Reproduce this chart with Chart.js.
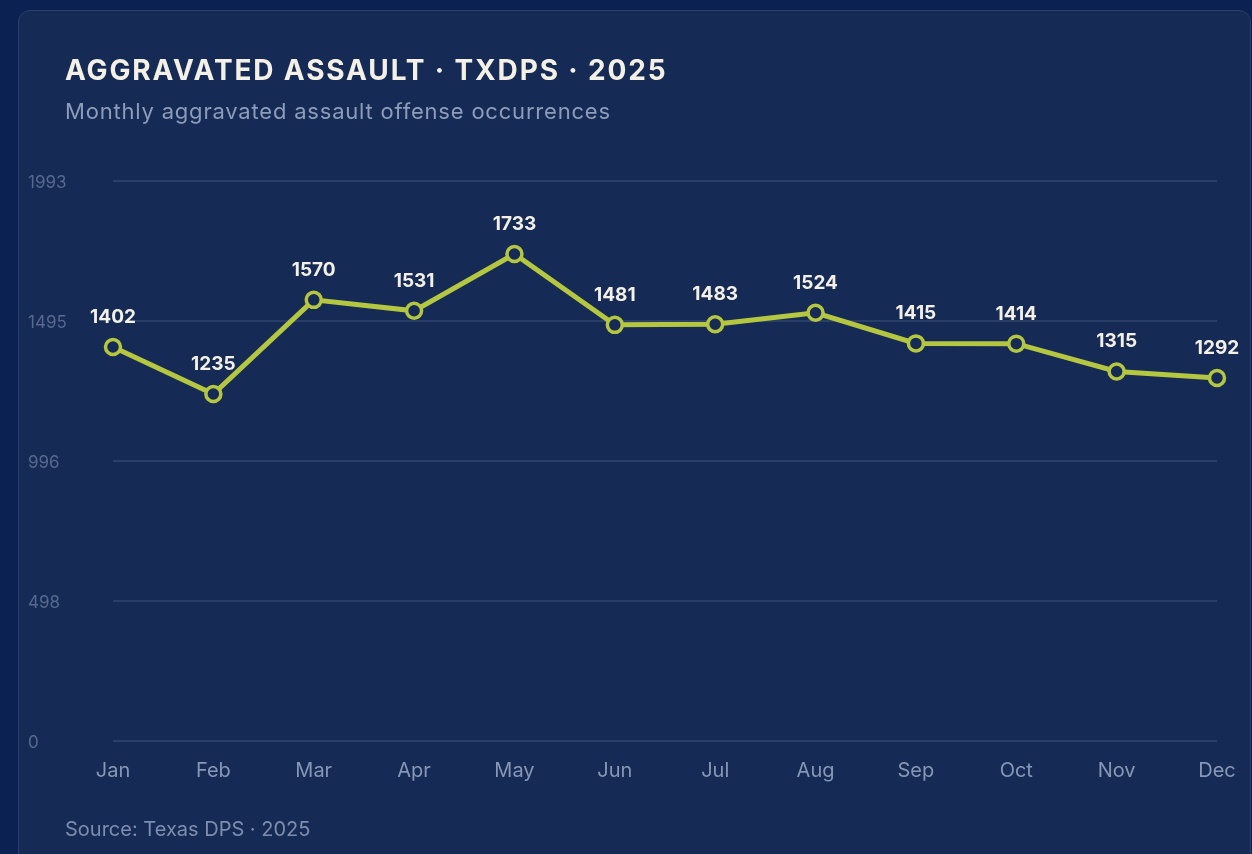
<!DOCTYPE html>
<html>
<head>
<meta charset="utf-8">
<script src="https://cdn.jsdelivr.net/npm/chart.js@4.4.1/dist/chart.umd.min.js"></script>
<style>
  html, body { margin: 0; padding: 0; }
  body {
    width: 1252px; height: 854px; overflow: hidden; position: relative;
    background: #0b2152;
    font-family: 'Inter', 'Noto Sans', sans-serif;
  }
  .card {
    position: absolute; left: 18px; top: 10px; width: 1231px; height: 900px;
    background: #152a54; border: 1px solid #2b4069; border-radius: 12px;
  }
  .wrap { position: absolute; left: 0; top: 0; width: 1252px; height: 854px; }
  h1 {
    position: absolute; left: 65px; top: 56px; margin: 0;
    font-size: 28px; line-height: 1; font-weight: 700; letter-spacing: 1.85px;
    color: #f4f0e6; white-space: nowrap;
  }
  .sub {
    position: absolute; left: 65px; top: 100px; margin: 0;
    font-size: 22px; line-height: 1; letter-spacing: 0.8px; color: #8d9cb8;
    white-space: nowrap;
  }
  .src {
    position: absolute; left: 65px; top: 819px; margin: 0;
    font-size: 20px; line-height: 1; color: #7d8dad; white-space: nowrap;
  }
</style>
</head>
<body>
<div class="card"></div>
<div class="wrap"><canvas id="chart"></canvas></div>
<h1>AGGRAVATED ASSAULT · TXDPS · 2025</h1>
<p class="sub">Monthly aggravated assault offense occurrences</p>
<p class="src">Source: Texas DPS · 2025</p>
<script>
const months = ["Jan", "Feb", "Mar", "Apr", "May", "Jun", "Jul", "Aug", "Sep", "Oct", "Nov", "Dec"];
const occurrences = [1402, 1235, 1570, 1531, 1733, 1481, 1483, 1524, 1415, 1414, 1315, 1292];

const yMax = Math.max(...occurrences) * 1.15;

// value labels above each point
const pointLabels = {
    id: 'pointLabels',
    afterDatasetsDraw(chart) {
        const ctx = chart.ctx;
        const meta = chart.getDatasetMeta(0);
        ctx.save();
        ctx.font = "700 19px 'Inter', sans-serif";
        ctx.fillStyle = "#f4f0e6";
        ctx.textAlign = "center";
        ctx.textBaseline = "alphabetic";
        meta.data.forEach((pt, i) => {
            ctx.fillText(String(occurrences[i]), pt.x, pt.y - 24);
        });
        ctx.restore();
    }
};

const ctx = document.getElementById("chart").getContext("2d");
new Chart(ctx, {
    type: "line",
    data: {
        labels: months,
        datasets: [{
            label: "Occurrences",
            data: occurrences,
            borderColor: "#b5c641",
            borderWidth: 5,
            tension: 0,
            pointRadius: 7.5,
            pointBorderWidth: 3.5,
            pointBackgroundColor: "#152a54",
            pointBorderColor: "#b5c641",
        }]
    },
    options: {
        responsive: true,
        maintainAspectRatio: false,
        animation: false,
        layout: { padding: { left: 28, right: 35, top: 181, bottom: 63 } },
        plugins: {
            legend: { display: false },
            tooltip: { enabled: false },
        },
        scales: {
            x: {
                offset: false,
                grid: { display: false },
                border: { display: false },
                ticks: {
                    color: "#8797b5",
                    font: { family: "'Inter', sans-serif", size: 20 },
                    padding: 10,
                    maxRotation: 0,
                },
                afterFit(scale) { scale.height = 50; }
            },
            y: {
                min: 0,
                max: yMax,
                grid: { color: "#2a3f68", lineWidth: 2, drawTicks: false },
                border: { display: false },
                ticks: {
                    stepSize: yMax / 4,
                    color: "#56698e",
                    crossAlign: "far",
                    padding: 0,
                    labelOffset: 2,
                    font: { family: "'Inter', sans-serif", size: 17 },
                    callback: (v) => Math.round(v),
                },
                afterFit(scale) { scale.width = 85; }
            }
        }
    },
    plugins: [pointLabels]
});
</script>
</body>
</html>
